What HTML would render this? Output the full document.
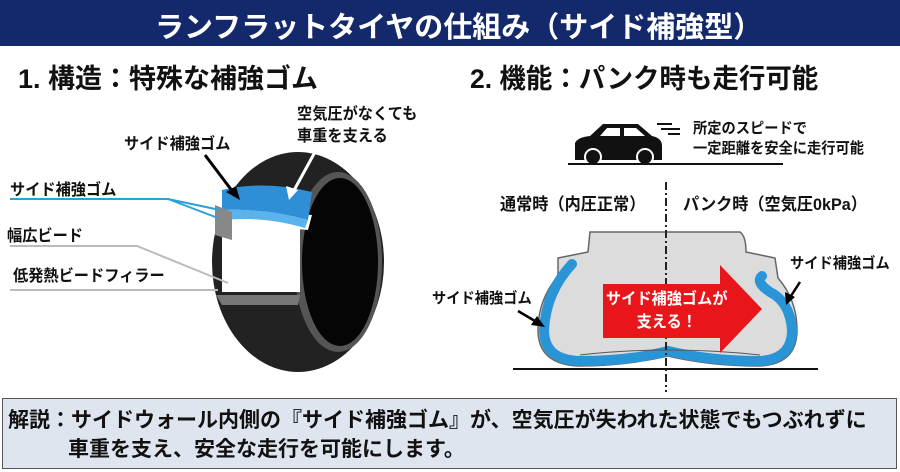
<!DOCTYPE html>
<html><head><meta charset="utf-8"><style>
*{margin:0;padding:0}
body{width:900px;height:472px;background:#fff;position:relative;overflow:hidden;font-family:"Liberation Sans","Noto Sans CJK JP",sans-serif;font-weight:bold;color:#111}
.t{position:absolute;white-space:nowrap;transform-origin:0 0}
</style></head><body>
<div style="position:absolute;left:0;top:0;width:900px;height:46px;background:#13296b"></div>
<div class="t" style="left:155px;top:4px;font-size:29px;color:#fff;transform:scaleX(1.0)">ランフラットタイヤの仕組み（サイド補強型）</div>
<div class="t" style="left:18px;top:57px;font-size:27px;transform:scaleX(1.0)">1. 構造：特殊な補強ゴム</div>
<div class="t" style="left:470px;top:57px;font-size:27px;transform:scaleX(0.98)">2. 機能：パンク時も走行可能</div>

<svg style="position:absolute;left:0;top:0" width="900" height="472">
 <!-- left tire -->
 <ellipse cx="298" cy="262" rx="86" ry="110" fill="#222"/>
 <ellipse cx="338" cy="262" rx="44" ry="90" fill="#555"/>
 <ellipse cx="340" cy="262" rx="38" ry="84" fill="#050505"/>
 <path d="M222,220 L300,222 L300,292 L222,292 Z" fill="#fff"/>
 <path d="M222,208 L312,215 L308,230 L222,222 Z" fill="#fff"/>
 <path d="M222,190 Q265,180 312,192 L308,220 Q265,208 222,210 Z" fill="#2e8fd6"/>
 <path d="M222,210 Q265,208 308,220 L305,228 Q265,216 224,220 Z" fill="#5ab3ea"/>
 <path d="M216,295 L300,295 L298,305 L222,305 Z" fill="#777"/>
 <path d="M215,205 L215,235 L232,240 L232,212Z" fill="#888"/>
 <!-- left labels lines -->
 <polyline points="10,199 168,199 220,210" fill="none" stroke="#2aa0d8" stroke-width="2"/>
 <line x1="168" y1="199" x2="218" y2="218" stroke="#2aa0d8" stroke-width="2"/>
 <polyline points="10,246 137,246 228,283" fill="none" stroke="#bbb" stroke-width="2"/>
 <line x1="10" y1="290" x2="218" y2="290" stroke="#bbb" stroke-width="2"/>
 <line x1="205" y1="155" x2="236" y2="196" stroke="#000" stroke-width="3"/>
 <polygon points="240,200 226,192 236,186" fill="#000"/>
 <line x1="315" y1="152" x2="292" y2="194" stroke="#fff" stroke-width="3"/>
 <polygon points="289,200 286,186 298,190" fill="#fff"/>

 <!-- car -->
 <path d="M575,160 L575,143 Q578,137 590,136 L603,124 L638,124 L652,136 Q662,138 662,146 L662,160 Z" fill="#111"/>
 <path d="M607,128 L620,128 L620,136 L600,136 Z M624,128 L636,128 L645,136 L624,136 Z" fill="#fff"/>
 <circle cx="593" cy="157" r="8" fill="#111" stroke="#fff" stroke-width="2"/>
 <circle cx="645" cy="157" r="8" fill="#111" stroke="#fff" stroke-width="2"/>
 <line x1="657" y1="124" x2="672" y2="124" stroke="#111" stroke-width="2"/>
 <line x1="661" y1="129" x2="680" y2="129" stroke="#111" stroke-width="2"/>
 <line x1="668" y1="134" x2="680" y2="134" stroke="#111" stroke-width="2"/>
 <line x1="568" y1="164" x2="783" y2="164" stroke="#111" stroke-width="2"/>

 <!-- cross section -->
 <path d="M590,232 L740,232 Q746,236 746,252 L775,258 L778,278 Q797,300 797,330 Q797,364 760,366 Q710,366 668,356 Q625,366 578,366 Q538,364 538,330 Q538,300 558,276 L558,258 L588,252 Z" fill="#dcdcdc" stroke="#666" stroke-width="1.5"/>
 <path d="M572,264 Q546,292 544,330 Q544,360 580,361 Q630,361 668,351 Q710,361 760,361 Q792,359 792,330 Q790,302 770,292 Q755,282 762,276" fill="none" stroke="#2a95d6" stroke-width="10" stroke-linecap="round"/>
 <path d="M580,355 Q668,345 760,355" fill="none" stroke="#555" stroke-width="1"/>
 <line x1="513" y1="369" x2="818" y2="369" stroke="#111" stroke-width="2"/>
 <line x1="666" y1="182" x2="666" y2="392" stroke="#222" stroke-width="2" stroke-dasharray="8,3,2,3"/>
 <polygon points="603,284 720,284 720,265 762,309 720,353 720,338 603,338" fill="#e8161b"/>
 <line x1="518" y1="311" x2="540" y2="324" stroke="#000" stroke-width="2.5"/>
 <polygon points="545,327 531,325 537,316" fill="#000"/>
 <line x1="800" y1="282" x2="789" y2="299" stroke="#000" stroke-width="2.5"/>
 <polygon points="786,305 785,292 795,297" fill="#000"/>
</svg>

<div class="t" style="left:10px;top:176px;font-size:16px;transform:scaleX(0.95)">サイド補強ゴム</div>
<div class="t" style="left:7px;top:222px;font-size:16px;transform:scaleX(0.95)">幅広ビード</div>
<div class="t" style="left:13px;top:262px;font-size:16px;transform:scaleX(0.95)">低発熱ビードフィラー</div>
<div class="t" style="left:124px;top:130px;font-size:16px;transform:scaleX(0.95)">サイド補強ゴム</div>
<div class="t" style="left:297px;top:104px;font-size:16px;line-height:22px;transform:scaleX(0.95)">空気圧がなくても<br>車重を支える</div>

<div class="t" style="left:693px;top:119px;font-size:15px;line-height:20px;transform:scaleX(0.95)">所定のスピードで<br>一定距離を安全に走行可能</div>
<div class="t" style="left:500px;top:190px;font-size:17px;transform:scaleX(0.95)">通常時（内圧正常）</div>
<div class="t" style="left:683px;top:190px;font-size:17px;transform:scaleX(0.95)">パンク時（空気圧0kPa）</div>
<div class="t" style="left:790px;top:252px;font-size:15px;transform:scaleX(0.95)">サイド補強ゴム</div>
<div class="t" style="left:432px;top:287px;font-size:15px;transform:scaleX(0.95)">サイド補強ゴム</div>
<div class="t" style="left:605px;top:288px;font-size:16px;line-height:23px;color:#fff;text-align:center;width:130px;transform:scaleX(0.95)">サイド補強ゴムが<br>支える！</div>

<div style="position:absolute;left:2px;top:398px;width:893px;height:69px;background:#dfe5ef;border:1.5px solid #555"></div>
<div class="t" style="left:8px;top:404px;font-size:21px;transform:scaleX(1.0)">解説：サイドウォール内側の『サイド補強ゴム』が、空気圧が失われた状態でもつぶれずに</div>
<div class="t" style="left:68px;top:433px;font-size:21px;transform:scaleX(1.0)">車重を支え、安全な走行を可能にします。</div>
</body></html>
